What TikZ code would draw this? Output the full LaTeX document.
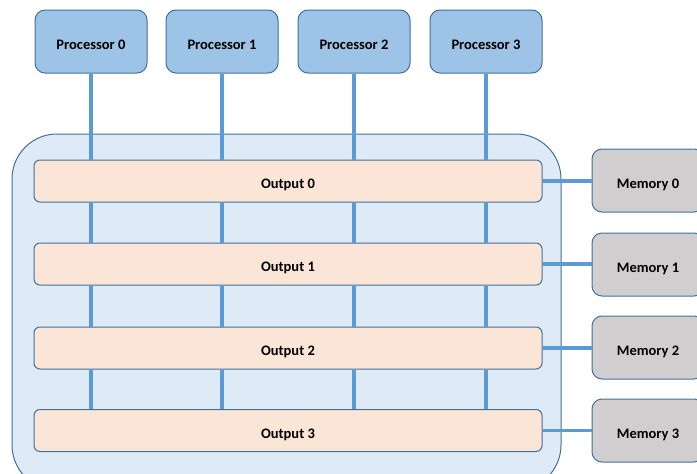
\documentclass[tikz,border=0pt]{standalone}
\usepackage{fontspec}
\setmainfont{Carlito}
\definecolor{procfill}{HTML}{9DC3E6}
\definecolor{edgeblue}{HTML}{41719C}
\definecolor{busfill}{HTML}{DEEBF7}
\definecolor{outfill}{HTML}{FBE5D6}
\definecolor{memfill}{HTML}{D0CECE}
\definecolor{wireblue}{HTML}{5B9BD5}
\tikzset{
  labelfont/.style={font=\bfseries\fontsize{14.5}{16}\selectfont, text height=15pt, text depth=0pt},
  procbox/.style={draw=edgeblue, line width=1pt, fill=procfill, rounded corners=10pt,
    minimum width=112pt, minimum height=63pt, inner sep=0pt, labelfont},
  outbox/.style={draw=edgeblue, line width=1pt, fill=outfill, rounded corners=6pt,
    minimum width=508pt, minimum height=42pt, inner sep=0pt, labelfont},
  membox/.style={draw=edgeblue, line width=1pt, fill=memfill, rounded corners=10pt,
    minimum width=112pt, minimum height=63pt, inner sep=0pt, labelfont},
  wire/.style={draw=wireblue, line width=3.2pt},
}
\begin{document}
\begin{tikzpicture}[x=1pt,y=-1pt]
\useasboundingbox (0,0) rectangle (697,474);
% shared bus enclosure
\draw[draw=edgeblue, line width=1pt, fill=busfill, rounded corners=45pt] (12,134) rectangle (561,490);
% processors
\foreach \i/\x in {0/91,1/222,2/354,3/486}
  \node[procbox] (p\i) at (\x,41.5) {Processor \i};
% output rows
\foreach \i/\y in {0/181,1/264,2/348,3/430.5}
  \node[outbox] (o\i) at (288,\y) {Output \i};
% memories
\foreach \i/\y in {0/180.5,1/264.5,2/347.5,3/430.5}
  \node[membox] (m\i) at (648,\y) {Memory \i};
% vertical wires
\foreach \i in {0,1,2,3}{
  \draw[wire] (p\i.south) -- (p\i.south |- o0.north);
  \draw[wire] (p\i.south |- o0.south) -- (p\i.south |- o1.north);
  \draw[wire] (p\i.south |- o1.south) -- (p\i.south |- o2.north);
  \draw[wire] (p\i.south |- o2.south) -- (p\i.south |- o3.north);
}
% horizontal wires to memories
\foreach \i in {0,1,2,3}
  \draw[wire] (o\i.east) -- (o\i.east -| m\i.west);
\end{tikzpicture}
\end{document}
